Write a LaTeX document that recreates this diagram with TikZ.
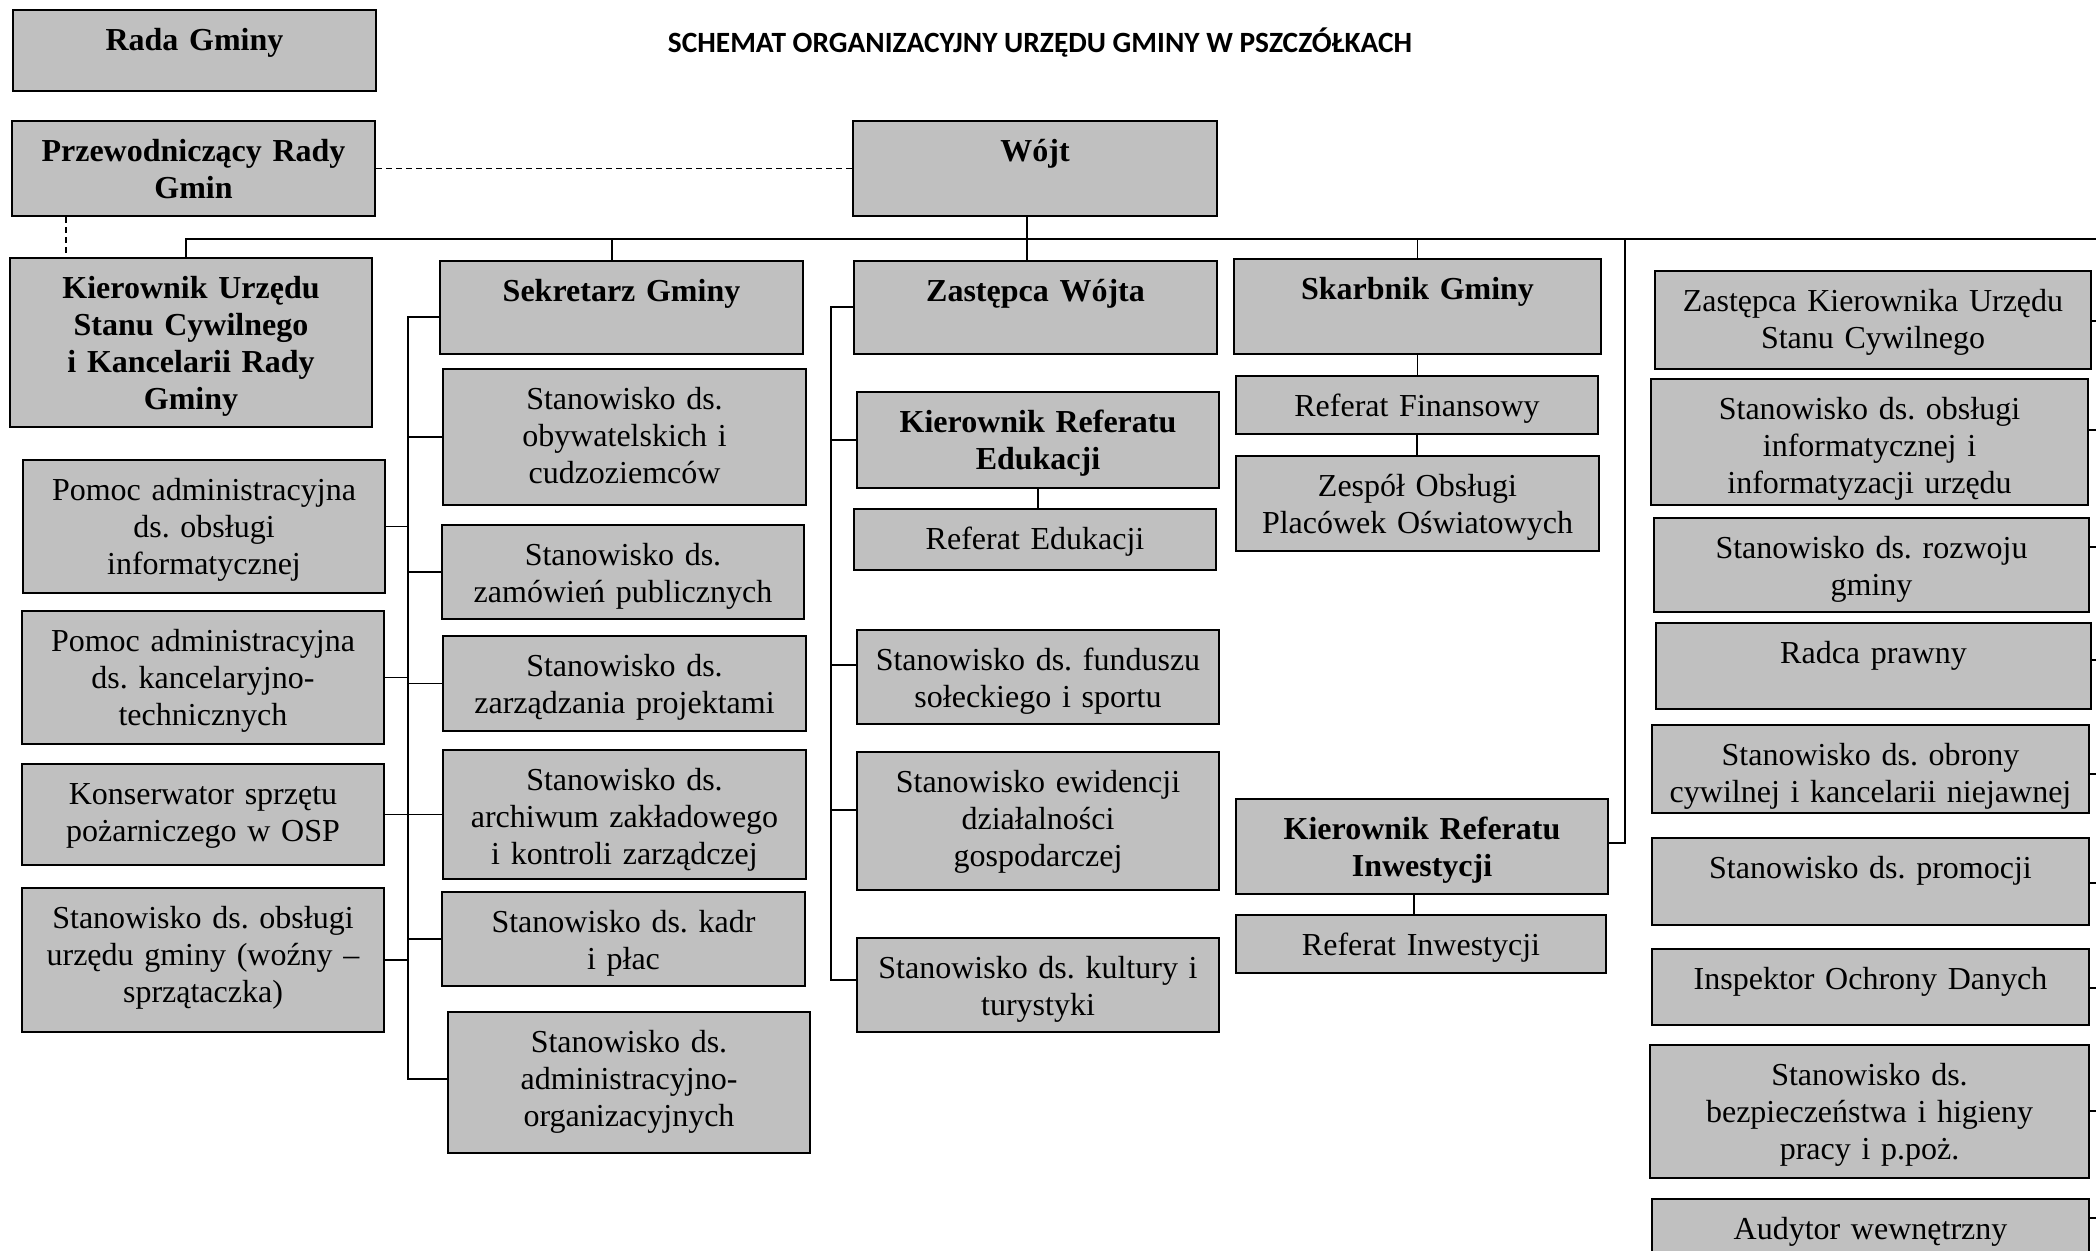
\documentclass[tikz,border=0pt]{standalone}
\usepackage{fontspec}
\setmainfont{Liberation Serif}
\newfontfamily\titlefont{Carlito}
\usetikzlibrary{fit,calc}
\definecolor{boxgray}{RGB}{192,192,192}
\tikzset{
  box/.style={draw=black, fill=boxgray, line width=1.2pt, inner sep=0pt},
  txt/.style={inner sep=0pt, text width=230pt, align=center, font=\fontsize{16}{18.4}\selectfont\frenchspacing},
  conn/.style={draw=black, line width=0.85pt},
  dashconn/.style={draw=black, line width=0.75pt, dash pattern=on 3pt off 2pt}
}
\newcommand\bx[6]{%
  \node[box, fit={(#2,#3) (#4,#5)}] (#1) {};
  \node[txt, anchor=north, yshift=-8pt] (#1-t) at (#1.north) {\strut #6};
}
\begin{document}
\begin{tikzpicture}[x=0.5pt, y=-0.5pt]
\path[use as bounding box] (0,0) rectangle (2096,1250);
\clip (0,0) rectangle (2096,1250);

\node[font=\titlefont\bfseries\fontsize{14.7}{17}\selectfont, anchor=base, inner sep=0pt] (title) at (1040,52) {SCHEMAT ORGANIZACYJNY URZĘDU GMINY W PSZCZÓŁKACH};

% top
\bx{rada}{13}{10}{376}{91}{\bfseries Rada Gminy}
\bx{przew}{12}{121}{375}{216}{\bfseries Przewodniczący Rady\\Gmin}
\bx{wojt}{853}{121}{1217}{216}{\bfseries Wójt}

% second row
\bx{kusc}{10}{258}{372}{427}{\bfseries Kierownik Urzędu\\Stanu Cywilnego\\i Kancelarii Rady\\Gminy}
\bx{sek}{440}{261}{803}{354}{\bfseries Sekretarz Gminy}
\bx{zw}{854}{261}{1217}{354}{\bfseries Zastępca Wójta}
\bx{skarb}{1234}{259}{1601}{354}{\bfseries Skarbnik Gminy}
\bx{zkusc}{1655}{271}{2091}{369}{Zastępca Kierownika Urzędu\\Stanu Cywilnego}

% left column
\bx{p1}{23}{460}{385}{593}{Pomoc administracyjna\\ds. obsługi\\informatycznej}
\bx{p2}{22}{611}{384}{744}{Pomoc administracyjna\\ds. kancelaryjno-\\technicznych}
\bx{kons}{22}{764}{384}{865}{Konserwator sprzętu\\pożarniczego w OSP}
\bx{wozny}{22}{888}{384}{1032}{Stanowisko ds. obsługi\\urzędu gminy (woźny –\\sprzątaczka)}

% Sekretarz column
\bx{obyw}{443}{369}{806}{505}{Stanowisko ds.\\obywatelskich i\\cudzoziemców}
\bx{zam}{442}{525}{804}{619}{Stanowisko ds.\\zamówień publicznych}
\bx{zarz}{443}{636}{806}{731}{Stanowisko ds.\\zarządzania projektami}
\bx{arch}{443}{750}{806}{879}{Stanowisko ds.\\archiwum zakładowego\\i kontroli zarządczej}
\bx{kadr}{442}{892}{805}{986}{Stanowisko ds. kadr\\i płac}
\bx{adm}{448}{1012}{810}{1153}{Stanowisko ds.\\administracyjno-\\organizacyjnych}

% Zastepca column
\bx{kedu}{857}{392}{1219}{488}{\bfseries Kierownik Referatu\\Edukacji}
\bx{redu}{854}{509}{1216}{570}{Referat Edukacji}
\bx{fund}{857}{630}{1219}{724}{Stanowisko ds. funduszu\\sołeckiego i sportu}
\bx{ewid}{857}{752}{1219}{890}{Stanowisko ewidencji\\działalności\\gospodarczej}
\bx{kult}{857}{938}{1219}{1032}{Stanowisko ds. kultury i\\turystyki}

% Skarbnik column
\bx{rfin}{1236}{376}{1598}{434}{Referat Finansowy}
\bx{zesp}{1236}{456}{1599}{551}{Zespół Obsługi\\Placówek Oświatowych}
\bx{kinw}{1236}{799}{1608}{894}{\bfseries Kierownik Referatu\\Inwestycji}
\bx{rinw}{1236}{915}{1606}{973}{Referat Inwestycji}

% right column
\bx{obsl}{1651}{379}{2088}{505}{Stanowisko ds. obsługi\\informatycznej i\\informatyzacji urzędu}
\bx{rozw}{1654}{518}{2089}{612}{Stanowisko ds. rozwoju\\gminy}
\bx{radca}{1656}{623}{2091}{709}{Radca prawny}
\bx{obr}{1652}{725}{2089}{813}{Stanowisko ds. obrony\\cywilnej i kancelarii niejawnej}
\bx{prom}{1652}{838}{2089}{925}{Stanowisko ds. promocji}
\bx{iod}{1652}{949}{2089}{1025}{Inspektor Ochrony Danych}
\bx{bhp}{1650}{1045}{2089}{1178}{Stanowisko ds.\\bezpieczeństwa i higieny\\pracy i p.poż.}
\bx{aud}{1652}{1199}{2089}{1290}{Audytor wewnętrzny}

% coordinates
\coordinate (busL) at (186,239);
\coordinate (busR) at (2110,239);
\coordinate (busS) at (612,239);
\coordinate (wj) at (1027,239);
\coordinate (busI) at (1625,239);
\coordinate (dv) at (66,0);
\coordinate (sbT) at (408,317);
\coordinate (sbB) at (408,1079);
\coordinate (zbT) at (831,307);
\coordinate (zbB) at (831,980);
\coordinate (rb) at (2110,0);

% dashed links
\draw[dashconn] (przew.east) -- (wojt.west);
\draw[dashconn] (dv |- przew.south) -- (dv |- kusc.north);

% main bus
\draw[conn] (busL |- kusc.north) -- (busL) -- (busR);
\draw[conn] (busS) -- (busS |- sek.north);
\draw[conn] (wj |- wojt.south) -- (wj |- zw.north);
\draw[conn] (skarb.north |- busL) -- (skarb.north);
\draw[conn] (busI) -- (busI |- 0,843) -- (kinw.east |- 0,843);

% Sekretarz bus
\draw[conn] (sbT -| sek.west) -- (sbT) -- (sbB) -- (sbB -| adm.west);
\foreach \n in {p1,p2,kons,wozny} \draw[conn] (\n.east) -- (\n.east -| sbT);
\foreach \n in {obyw,zam,zarz,arch,kadr} \draw[conn] (\n.west -| sbT) -- (\n.west);

% Zastepca bus
\draw[conn] (zbT -| zw.west) -- (zbT) -- (zbB) -- (zbB -| kult.west);
\draw[conn] (zbT |- kedu.west) -- (kedu.west);
\draw[conn] (zbT |- 0,665) -- (fund.west |- 0,665);
\draw[conn] (zbT |- 0,810) -- (ewid.west |- 0,810);
\draw[conn] (kedu.south) -- (kedu.south |- redu.north);

% Skarbnik chain
\draw[conn] (skarb.south) -- (skarb.south |- rfin.north);
\draw[conn] (rfin.south) -- (rfin.south |- zesp.north);
\draw[conn] ($(kinw.south)+(-8,0)$) -- ($(kinw.south |- rinw.north)+(-8,0)$);

% right column ticks
\draw[conn] (zkusc.east |- 0,321) -- (rb |- 0,321);
\draw[conn] (obsl.east |- 0,430) -- (rb |- 0,430);
\draw[conn] (rozw.east |- 0,547) -- (rb |- 0,547);
\draw[conn] (radca.east |- 0,660) -- (rb |- 0,660);
\draw[conn] (obr.east |- 0,774) -- (rb |- 0,774);
\draw[conn] (prom.east |- 0,883) -- (rb |- 0,883);
\draw[conn] (iod.east |- 0,988) -- (rb |- 0,988);
\draw[conn] (bhp.east |- 0,1111) -- (rb |- 0,1111);
\draw[conn] (aud.east |- 0,1218) -- (rb |- 0,1218);
\end{tikzpicture}
\end{document}
